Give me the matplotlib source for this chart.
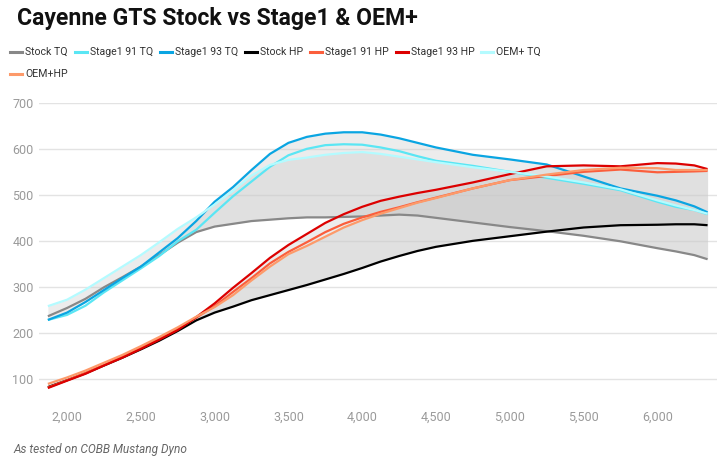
import matplotlib
matplotlib.use("Agg")
import matplotlib.pyplot as plt
from matplotlib.lines import Line2D
import numpy as np

# rpm sample points
rpm = [1870, 2000, 2125, 2250, 2375, 2500, 2625, 2750, 2875, 3000, 3125, 3250,
       3375, 3500, 3625, 3750, 3875, 4000, 4125, 4250, 4375, 4500, 4750, 5000,
       5250, 5500, 5750, 6000, 6125, 6250, 6340]

stock_tq = [237, 255, 275, 300, 322, 345, 370, 397, 420, 432, 438, 444,
            447, 450, 452, 452, 453, 454, 456, 458, 456, 451, 441, 431,
            422, 412, 400, 385, 378, 370, 361]
s1_91_tq = [229, 240, 260, 289, 315, 341, 368, 400, 425, 462, 498, 530,
            562, 587, 601, 609, 611, 610, 604, 596, 585, 575, 564, 551,
            538, 525, 511, 486, 475, 468, 459]
s1_93_tq = [229, 245, 268, 294, 320, 345, 376, 407, 444, 486, 518, 555,
            590, 614, 627, 634, 637, 637, 632, 624, 614, 604, 588, 578,
            567, 541, 515, 499, 489, 476, 463]
stock_hp = [83, 98, 113, 130, 147, 165, 184, 205, 228, 245, 258, 272,
            283, 294, 305, 317, 329, 342, 356, 368, 379, 388, 401, 411,
            421, 430, 435, 436, 437, 437, 435]
s1_91_hp = [82, 98, 114, 131, 149, 168, 188, 210, 234, 259, 290, 320,
            352, 377, 398, 420, 438, 452, 464, 474, 485, 495, 515, 533,
            542, 551, 556, 550, 551, 552, 553]
s1_93_hp = [81, 97, 112, 130, 147, 166, 186, 207, 235, 265, 299, 331,
            364, 392, 416, 440, 459, 475, 488, 497, 505, 512, 528, 546,
            563, 565, 563, 570, 569, 565, 557]
oem_tq = [259, 273, 295, 320, 345, 370, 398, 427, 452, 480, 510, 543,
          566, 577, 582, 588, 592, 594, 590, 584, 578, 572, 561, 551,
          541, 528, 513, 489, 478, 468, 460]
oem_hp = [90, 104, 119, 136, 153, 172, 192, 213, 236, 257, 283, 315,
          345, 372, 390, 410, 430, 446, 460, 472, 484, 494, 515, 533,
          545, 555, 560, 559, 555, 555, 555]

names = ["Stock TQ", "Stage1 91 TQ", "Stage1 93 TQ", "Stock HP",
         "Stage1 91 HP", "Stage1 93 HP", "OEM+ TQ", "OEM+HP"]
series = [stock_tq, s1_91_tq, s1_93_tq, stock_hp, s1_91_hp, s1_93_hp, oem_tq, oem_hp]
colors = ["#888888", "#5ae6f4", "#0aa5e2", "#000000",
          "#fb5e3c", "#dc0000", "#b4fbff", "#fd9a6a"]

xticks = [2000, 2500, 3000, 3500, 4000, 4500, 5000, 5500, 6000]
yticks = [100, 200, 300, 400, 500, 600, 700]

W, H = 725, 463
fig = plt.figure(figsize=(W / 100, H / 100), dpi=100)
ax = fig.add_axes([39 / W, 1 - 400 / H, (717 - 39) / W, (400 - 103.3) / H])

# shaded ranges between stock and tuned curves
x = np.array(rpm)
fill_kw = dict(color="#c8c8c8", alpha=0.33, lw=0, zorder=1)
ax.fill_between(x, stock_tq, s1_93_tq, **fill_kw)
ax.fill_between(x, stock_tq, oem_tq, **fill_kw)
ax.fill_between(x, stock_hp, s1_93_hp, **fill_kw)
ax.fill_between(x, stock_hp, oem_hp, **fill_kw)

for i, (name, y) in enumerate(zip(names, series)):
    ax.plot(x, y, color=colors[i], lw=1.6, label=name, zorder=3 + i,
            solid_capstyle="butt")

ax.set_xlim(1810, 6404)
ax.set_ylim(55, 700)
ax.set_xticks(xticks)
ax.set_xticklabels([f"{t:,}" for t in xticks])
ax.set_yticks(yticks)
ax.set_yticklabels([str(t) for t in yticks])
ax.grid(axis="y", color="#e3e3e3", lw=1)
ax.set_axisbelow(True)
for s in ax.spines.values():
    s.set_visible(False)
ax.tick_params(axis="both", length=0, labelcolor="#9a9a9a", labelsize=9)
ax.tick_params(axis="x", pad=8)
ax.tick_params(axis="y", pad=4)
for lab in ax.get_xticklabels() + ax.get_yticklabels():
    lab.set_family("Roboto")

fig.text(17 / W, 1 - 25 / H, "Cayenne GTS Stock vs Stage1 & OEM+", family="Roboto",
         weight="bold", fontsize=16.6, color="#111111", va="baseline")

# legend: 7 items on the first row, the last one wraps
renderer = fig.canvas.get_renderer()
cur = 10
for i, name in enumerate(names):
    if i == 7:
        cur = 10
    ypx = 52 if i < 7 else 74
    xs = cur / W
    ys = 1 - ypx / H
    fig.add_artist(Line2D([xs, xs + 12 / W], [ys, ys], color=colors[i], lw=2.2,
                          transform=fig.transFigure))
    txt = fig.text(xs + 15 / W, ys, name, family="Roboto", fontsize=7.6,
                   color="#333333", va="center")
    bb = txt.get_window_extent(renderer)
    cur = bb.x1 + 7

fig.text(13 / W, 1 - 450 / H, "As tested on COBB Mustang Dyno", family="Roboto",
         style="italic", fontsize=8.6, color="#666666", va="center")

fig.savefig("out.png", dpi=100)
